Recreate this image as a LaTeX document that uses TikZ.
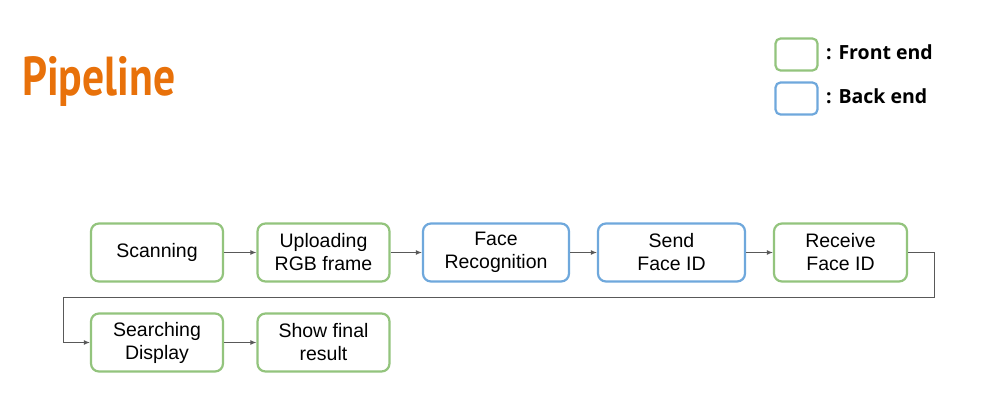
\documentclass[tikz,border=0pt]{standalone}
\usepackage{fontspec}
\setmainfont{Liberation Sans}
\newfontfamily\titlefont{PT Sans}
\newfontfamily\legendfont{Open Sans}
\usetikzlibrary{arrows.meta}
\definecolor{fegreen}{HTML}{93C47D}
\definecolor{beblue}{HTML}{6FA8DC}
\definecolor{linegray}{HTML}{595959}
\definecolor{titleorange}{HTML}{E8710A}
\begin{document}
\begin{tikzpicture}[x=1pt,y=-1pt,
  stagebox/.style={draw, line width=2.2pt, rounded corners=8pt, minimum width=132pt, minimum height=58pt, inner sep=0pt, align=center, font=\fontsize{19.5}{23}\selectfont, text=black},
  front/.style={stagebox, draw=fegreen},
  back/.style={stagebox, draw=beblue},
  legbox/.style={draw, line width=2.2pt, rounded corners=5pt, minimum width=42pt, minimum height=32pt, inner sep=0pt},
  flow/.style={draw=linegray, line width=1pt, -{Latex[length=6pt,width=5pt]}},
  legtext/.style={anchor=west, inner sep=0pt, font=\legendfont\bfseries\fontsize{19.5}{21}\selectfont}
]
\useasboundingbox (0,0) rectangle (993,406);
\fill[white] (0,0) rectangle (993,406);

\node[anchor=north west, inner sep=0pt, text=titleorange] (title) at (22,56)
  {\resizebox*{153pt}{50pt}{\titlefont\bfseries\fontsize{48}{50}\selectfont Pipeline}};

\node[legbox, draw=fegreen] (lg) at (796.5,54.5) {};
\node[legbox, draw=beblue] (lb) at (796.5,98.5) {};
\node[legtext] (lgt) at (826,52) {: Front end};
\node[legtext] (lbt) at (826,96) {: Back end};

\node[front] (scan) at (157,252.5) {Scanning};
\node[front] (upl) at (323.5,252.5) {Uploading\\RGB frame};
\node[back, minimum width=146pt] (face) at (496,252.5) {Face\\Recognition};
\node[back, minimum width=147pt] (send) at (671.5,252.5) {Send\\Face ID};
\node[front, minimum width=133pt] (recv) at (840.5,252.5) {Receive\\Face ID};
\node[front] (srch) at (157,342.5) {Searching\\Display};
\node[front] (show) at (323.5,342.5) {Show final\\result};

\coordinate (c1) at (934,252.5);
\coordinate (c2) at (934,297);
\coordinate (c3) at (63,297);
\coordinate (c4) at (63,342.5);

\draw[flow] (scan) -- (upl);
\draw[flow] (upl) -- (face);
\draw[flow] (face) -- (send);
\draw[flow] (send) -- (recv);
\draw[flow] (recv.east) -- (c1) -- (c2) -- (c3) -- (c4) -- (srch.west);
\draw[flow] (srch) -- (show);
\end{tikzpicture}
\end{document}
